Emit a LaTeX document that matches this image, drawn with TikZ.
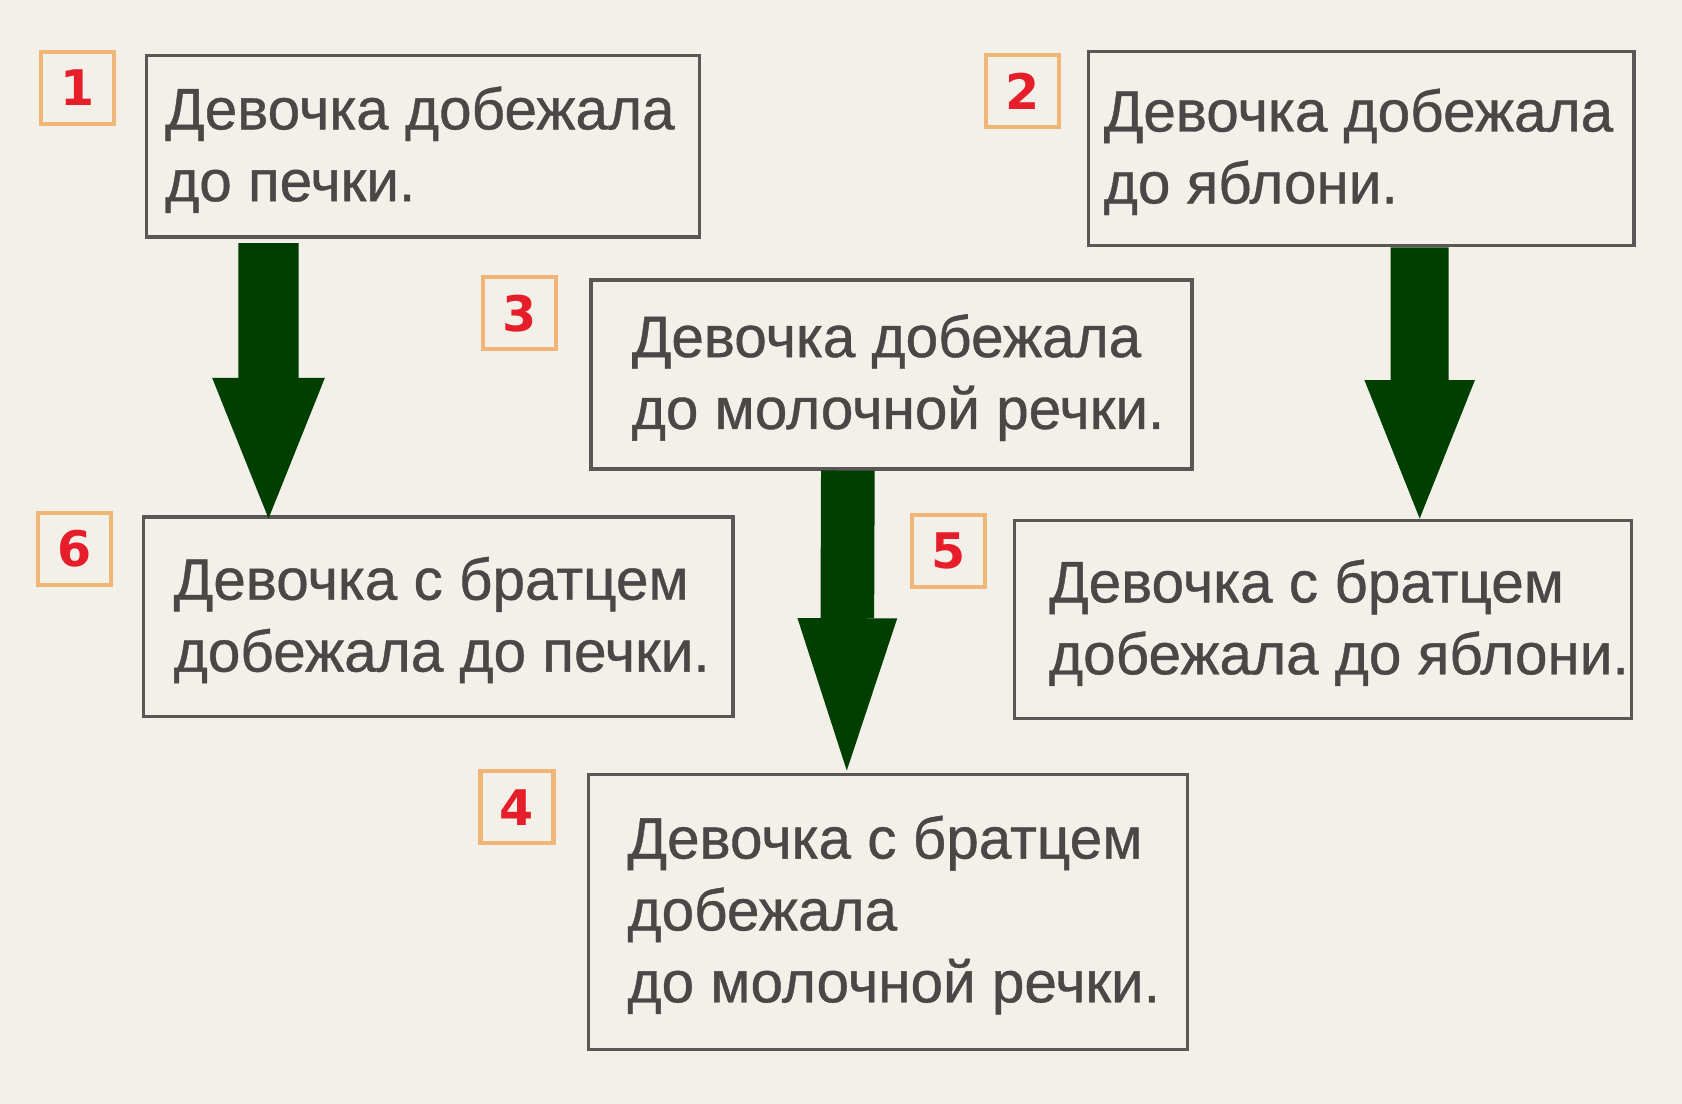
\documentclass[tikz,border=0pt]{standalone}
\usepackage{xcolor}
\usepackage{fontspec}
\setmainfont{Liberation Sans}
\newfontfamily\numfont{DejaVu Sans}
\newfontfamily\storyfont{Liberation Sans}[FakeBold=0.7]
\usepackage{tikz}
\usetikzlibrary{arrows.meta,positioning}
\definecolor{paper}{HTML}{F3F0EA}
\definecolor{ink}{HTML}{4A4747}
\definecolor{frame}{HTML}{5B5757}
\definecolor{arrowgreen}{HTML}{003F00}
\definecolor{numred}{HTML}{E61E2A}
\definecolor{numframe}{HTML}{EFB677}
\tikzset{
  storybox/.style={draw=frame, line width=0.9pt, rectangle, inner sep=0pt},
  storytext/.style={anchor=west, align=left, inner sep=0pt, text=ink,
    font=\storyfont\fontsize{15.5}{19.05}\selectfont},
  numbox/.style={draw=numframe, line width=1.1pt, rectangle, inner sep=0pt,
    minimum width=0.68cm, minimum height=0.67cm, text=numred,
    font=\numfont\bfseries\fontsize{13}{14}\selectfont},
  bigarrow/.style n args={3}{arrowgreen, line width=#1,
    -{Triangle[width=#2, length=#3, line width=0pt]}},
}
\begin{document}
\begin{tikzpicture}[x=0.01cm, y=-0.01cm]
  \fill[paper] (0,0) rectangle (1568,1029);
  \useasboundingbox (0,0) rectangle (1568,1029);

  \node[storybox, minimum width=5.15cm, minimum height=1.69cm] (b1) at (394.5,136.5) {};
  \node[storybox, minimum width=5.08cm, minimum height=1.81cm] (b2) at (1269,138.5) {};
  \node[storybox, minimum width=5.60cm, minimum height=1.76cm] (b3) at (831,349) {};
  \node[storybox, minimum width=5.49cm, minimum height=1.86cm] (b6) at (408.5,575) {};
  \node[storybox, minimum width=5.75cm, minimum height=1.85cm] (b5) at (1233.5,577.5) {};
  \node[storybox, minimum width=5.58cm, minimum height=2.56cm] (b4) at (828,850) {};

  \node[storytext] (t1) at ([xshift=0.18cm, yshift=-0.03cm]b1.west) {Девочка добежала\\до печки.};
  \node[storytext] (t2) at ([xshift=0.15cm, yshift=-0.03cm]b2.west) {Девочка добежала\\до яблони.};
  \node[storytext] (t3) at ([xshift=0.39cm, yshift=-0.03cm]b3.west) {Девочка добежала\\до молочной речки.};
  \node[storytext] (t6) at ([xshift=0.29cm, yshift=-0.03cm]b6.west) {Девочка с братцем\\добежала до печки.};
  \node[storytext] (t5) at ([xshift=0.33cm, yshift=-0.03cm]b5.west) {Девочка с братцем\\добежала до яблони.};
  \node[storytext] (t4) at ([xshift=0.37cm, yshift=-0.03cm]b4.west) {Девочка с братцем\\добежала\\до молочной речки.};

  \node[numbox] (n1) at (72,82) {1};
  \node[numbox] (n2) at (953,85) {2};
  \node[numbox] (n3) at (484,292) {3};
  \node[numbox] (n6) at (69.5,511.5) {6};
  \node[numbox] (n5) at (884.5,513.5) {5};
  \node[numbox] (n4) at (482,752.5) {4};

  \draw[bigarrow={0.56cm}{1.05cm}{1.31cm}] ([xshift=1.15cm, yshift=-0.04cm]b1.south west) -- ([xshift=1.18cm, yshift=-0.03cm]b6.north west);
  \draw[bigarrow={0.54cm}{1.03cm}{1.29cm}] ([xshift=3.10cm]b2.south west) -- ([xshift=3.79cm]b5.north west);
  \draw[bigarrow={0.50cm}{0.93cm}{1.42cm}] ([xshift=2.41cm]b3.south west) -- ([xshift=2.42cm, yshift=0.02cm]b4.north west);
\end{tikzpicture}
\end{document}
